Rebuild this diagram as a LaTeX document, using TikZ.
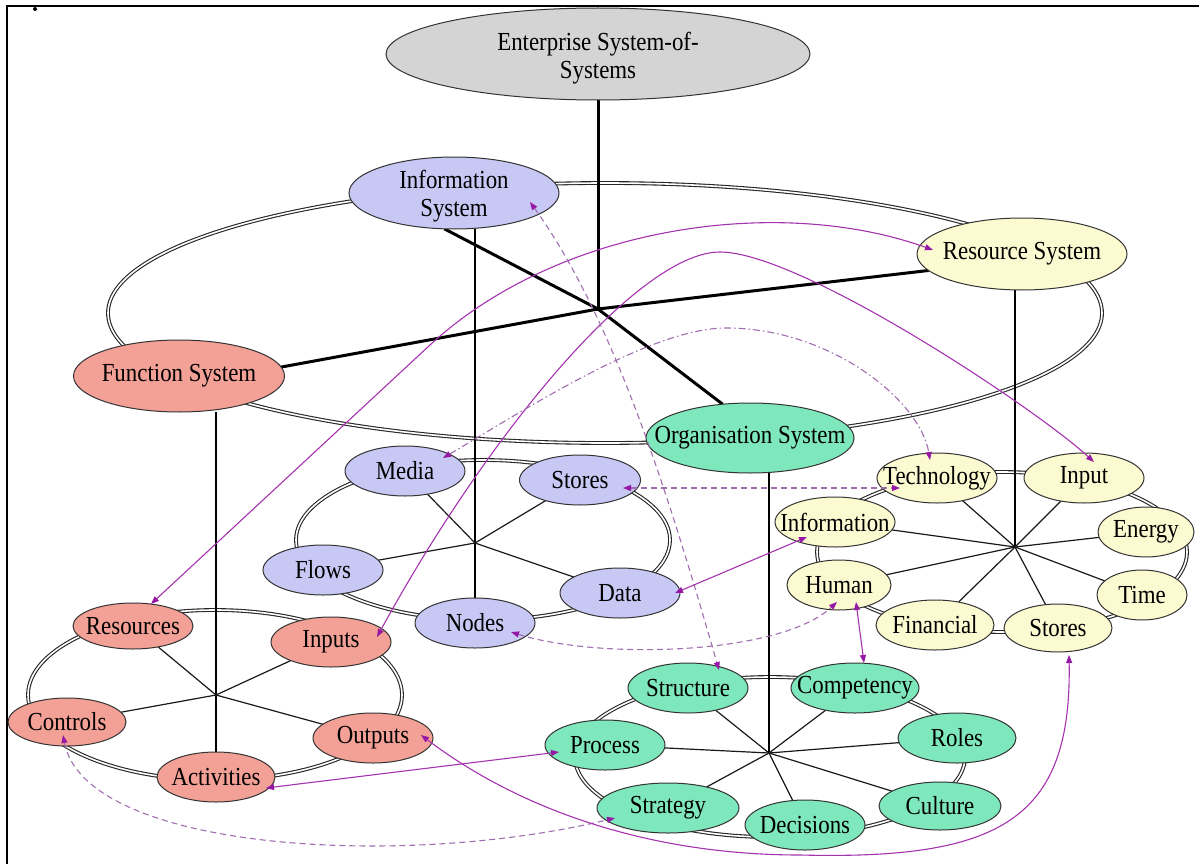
\documentclass[tikz,border=0pt]{standalone}
\usepackage{fontspec}
\setmainfont{Liberation Serif}[FakeStretch=0.88]
\usetikzlibrary{shapes.geometric,arrows.meta,calc}

\definecolor{entfill}{RGB}{212,212,212}
\definecolor{infofill}{RGB}{200,200,245}
\definecolor{funcfill}{RGB}{243,160,150}
\definecolor{resfill}{RGB}{252,250,208}
\definecolor{orgfill}{RGB}{126,232,188}
\definecolor{linkcol}{RGB}{165,50,175}
\definecolor{dashcol}{RGB}{160,110,175}
\definecolor{tipcol}{RGB}{150,25,165}

\pgfdeclarelayer{rings}
\pgfdeclarelayer{links}
\pgfsetlayers{rings,main,links}

\tikzset{
  sysnode/.style={ellipse, draw=black!80, line width=1pt, inner sep=0pt, outer sep=0pt},
  lbl/.style={font=\fontsize{26}{28}\selectfont, align=center, inner sep=0pt},
  ring/.style={draw=black!85, line width=1.1pt, double=white, double distance=1.6pt},
  trunk/.style={line width=3pt, black},
  stem/.style={line width=2.4pt, black},
  spoke/.style={line width=1.2pt, black!90},
  link/.style={draw=linkcol, line width=1.1pt,
    arrows={Triangle[length=8pt,width=6pt,color=tipcol]-Triangle[length=8pt,width=6pt,color=tipcol]}},
  dashlink/.style={link, draw=dashcol, dash pattern=on 6pt off 4pt},
  dotlink/.style={link, draw=dashcol, dash pattern=on 7pt off 3pt on 1.5pt off 3pt},
}

\begin{document}
\begin{tikzpicture}[x=1pt,y=-1pt]
\useasboundingbox (0,0) rectangle (1199,864);

% frame and stray mark
\draw[line width=2.8pt] (1199,6) -- (7,6) -- (7,864);
\fill (35,9) circle [radius=2pt];

% ---------- top level ----------
\node[sysnode, fill=entfill, minimum width=424, minimum height=92,
  label={[lbl, yshift=-4pt]center:Enterprise System-of-\\Systems}] (ent) at (598,54) {};
\node[sysnode, fill=infofill, minimum width=210, minimum height=72,
  label={[lbl, yshift=-3pt]center:Information\\System}] (info) at (454,193) {};
\node[sysnode, fill=resfill, minimum width=210, minimum height=72,
  label={[lbl]center:Resource System}] (ressys) at (1022,254) {};
\node[sysnode, fill=funcfill, minimum width=211, minimum height=72,
  label={[lbl]center:Function System}] (func) at (179,376) {};
\node[sysnode, fill=orgfill, minimum width=208, minimum height=70,
  label={[lbl]center:Organisation System}] (org) at (750,438) {};
\coordinate (hub) at (598,309);

% ---------- information subsystem ----------
\node[sysnode, fill=infofill, minimum width=120, minimum height=50, label={[lbl]center:Media}] (imedia) at (405,471) {};
\node[sysnode, fill=infofill, minimum width=121, minimum height=50, label={[lbl]center:Stores}] (istores) at (580,480) {};
\node[sysnode, fill=infofill, minimum width=120, minimum height=50, label={[lbl]center:Flows}] (iflows) at (323,570) {};
\node[sysnode, fill=infofill, minimum width=120, minimum height=50, label={[lbl]center:Data}] (idata) at (620,593) {};
\node[sysnode, fill=infofill, minimum width=120, minimum height=50, label={[lbl]center:Nodes}] (inodes) at (475,623) {};
\coordinate (ihub) at (475,543);

% ---------- function subsystem ----------
\node[sysnode, fill=funcfill, minimum width=120, minimum height=46, label={[lbl]center:Resources}] (fres) at (133,626) {};
\node[sysnode, fill=funcfill, minimum width=120, minimum height=50, label={[lbl]center:Inputs}] (finp) at (331,642) {};
\node[sysnode, fill=funcfill, minimum width=118, minimum height=48, label={[lbl]center:Controls}] (fctl) at (67,722) {};
\node[sysnode, fill=funcfill, minimum width=120, minimum height=50, label={[lbl]center:Outputs}] (fout) at (373,738) {};
\node[sysnode, fill=funcfill, minimum width=118, minimum height=50, label={[lbl]center:Activities}] (fact) at (216,777) {};
\coordinate (fhub) at (216,695);

% ---------- resource subsystem ----------
\node[sysnode, fill=resfill, minimum width=120, minimum height=50, label={[lbl]center:Technology}] (rtech) at (937,478) {};
\node[sysnode, fill=resfill, minimum width=120, minimum height=50, label={[lbl]center:Input}] (rinput) at (1084,478) {};
\node[sysnode, fill=resfill, minimum width=120, minimum height=50, label={[lbl]center:Information}] (rinfo) at (835,522) {};
\node[sysnode, fill=resfill, minimum width=96, minimum height=50, label={[lbl]center:Energy}] (renergy) at (1146,532) {};
\node[sysnode, fill=resfill, minimum width=104, minimum height=50, label={[lbl]center:Human}] (rhuman) at (839,585) {};
\node[sysnode, fill=resfill, minimum width=90, minimum height=50, label={[lbl]center:Time}] (rtime) at (1142,595) {};
\node[sysnode, fill=resfill, minimum width=118, minimum height=50, label={[lbl]center:Financial}] (rfin) at (935,625) {};
\node[sysnode, fill=resfill, minimum width=108, minimum height=48, label={[lbl]center:Stores}] (rstores) at (1058,628) {};
\coordinate (rhub) at (1015,547);

% ---------- organisation subsystem ----------
\node[sysnode, fill=orgfill, minimum width=120, minimum height=50, label={[lbl]center:Structure}] (ostruct) at (688,688) {};
\node[sysnode, fill=orgfill, minimum width=128, minimum height=50, label={[lbl]center:Competency}] (ocomp) at (855,688) {};
\node[sysnode, fill=orgfill, minimum width=120, minimum height=50, label={[lbl]center:Process}] (oproc) at (605,745) {};
\node[sysnode, fill=orgfill, minimum width=118, minimum height=50, label={[lbl]center:Roles}] (oroles) at (957,738) {};
\node[sysnode, fill=orgfill, minimum width=142, minimum height=50, label={[lbl]center:Strategy}] (ostrat) at (668,808) {};
\node[sysnode, fill=orgfill, minimum width=120, minimum height=50, label={[lbl]center:Decisions}] (odec) at (805,825) {};
\node[sysnode, fill=orgfill, minimum width=122, minimum height=48, label={[lbl]center:Culture}] (oculture) at (940,806) {};
\coordinate (ohub) at (769,753);

% ---------- rings and structure lines ----------
\begin{pgfonlayer}{rings}
  \draw[ring] (605,313) ellipse [x radius=497pt, y radius=130pt];
  \draw[ring] (483,540) ellipse [x radius=187pt, y radius=80pt];
  \draw[ring] (215,695) ellipse [x radius=187pt, y radius=85pt];
  \draw[ring] (1002,552) ellipse [x radius=185pt, y radius=80pt];
  \draw[ring] (770,757) ellipse [x radius=195pt, y radius=80pt];

  \draw[trunk] (ent.south) -- (hub);
  \draw[trunk] (hub) -- (info.255);
  \draw[trunk] (hub) -- (ressys.190);
  \draw[trunk] (hub) -- (func.5);
  \draw[trunk] (hub) -- (org.129);

  \draw[stem] (info.south -| ihub) -- (inodes.north);
  \draw[stem] (func.south -| fhub) -- (fact.north);
  \draw[stem] (ressys.south -| rhub) -- (rhub);
  \draw[stem] (org.south -| ohub) -- (ohub);

  \foreach \n in {imedia,istores,iflows,idata} \draw[spoke] (ihub) -- (\n);
  \foreach \n in {fres,finp,fctl,fout} \draw[spoke] (fhub) -- (\n);
  \foreach \n in {rtech,rinput,rinfo,renergy,rhuman,rtime,rfin,rstores} \draw[spoke] (rhub) -- (\n);
  \foreach \n in {ostruct,ocomp,oproc,oroles,ostrat,odec,oculture} \draw[spoke] (ohub) -- (\n);
\end{pgfonlayer}

% ---------- cross-system relationships ----------
\begin{pgfonlayer}{links}
  % Resources <-> Resource System
  \draw[link] ($(fres)+(18,-22)$) -- (430,345)
     .. controls (560,225) and (780,195) .. ($(ressys)+(-89,-4)$);
  % Inputs <-> Input
  \draw[link] ($(finp)+(46,-5)$) .. controls (490,430) and (640,252) .. (720,252)
     .. controls (800,252) and (1034,407) .. ($(rinput)+(10,-16)$);
  % Media <-> Technology
  \draw[dotlink] ($(imedia)+(38,-13)$) .. controls (523,411) and (650,328) .. (726,328)
     .. controls (830,328) and (920,400) .. ($(rtech)+(-7,-18)$);
  % Information System <-> Structure
  \draw[dashlink] ($(info)+(76,9)$) .. controls (615,320) and (670,500) .. ($(ostruct)+(31,-18)$);
  % Stores <-> Technology
  \draw[dashlink] ($(istores)+(43,8)$) -- ($(rtech)+(-37,10)$);
  % Data <-> Information
  \draw[link] ($(idata)+(55,0)$) -- ($(rinfo)+(-28,15)$);
  % Nodes <-> Human
  \draw[dashlink] ($(inodes)+(36,9)$) .. controls (600,660) and (780,655) .. ($(rhuman)+(-2,17)$);
  % Human <-> Competency
  \draw[link] ($(rhuman)+(17,17)$) -- ($(ocomp)+(9,-25)$);
  % Activities <-> Process
  \draw[link] ($(fact)+(50,11)$) -- ($(oproc)+(-46,7)$);
  % Controls <-> Strategy
  \draw[dashlink] ($(fctl)+(-4,13)$) .. controls (85,850) and (400,870) .. ($(ostrat)+(-53,10)$);
  % Outputs <-> Stores
  \draw[link] ($(fout)+(48,-3)$) .. controls (520,810) and (650,855) .. (800,855)
     .. controls (1000,860) and (1072,820) .. ($(rstores)+(11,27)$);
\end{pgfonlayer}
\end{tikzpicture}
\end{document}
